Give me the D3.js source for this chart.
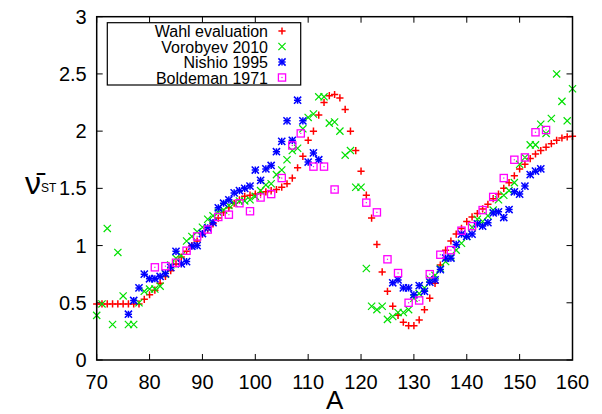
<!DOCTYPE html>
<html>
<head>
<meta charset="utf-8">
<script src="https://cdn.jsdelivr.net/npm/d3@7"></script>
<style>
  body { margin: 0; background: #fff; }
  svg { display: block; font-family: "Liberation Sans", Arial, sans-serif; }
</style>
</head>
<body>
<div id="graph"></div>
<script>
// values
const wahlA = [70,71,72,73,74,75,76,77,78,79,80,81,82,83,84,85,86,87,88,89,90,91,92,93,94,95,96,97,98,99,
  100,101,102,103,104,105,106,107,108,109,110,111,112,113,114,115,116,117,118,119,120,121,122,123,124,125,126,127,128,129,
  130,131,132,133,134,135,136,137,138,139,140,141,142,143,144,145,146,147,148,149,150,151,152,153,154,155,156,157,158,159,160]
const wahlNu = [0.49,0.49,0.49,0.49,0.49,0.49,0.49,0.49,0.49,0.53,0.57,0.61,0.67,0.73,0.78,0.84,0.90,0.95,1.00,1.04,1.10,1.14,1.19,1.24,1.29,1.33,1.37,1.40,1.43,1.44,
  1.45,1.46,1.47,1.48,1.49,1.51,1.54,1.59,1.68,1.78,1.92,2.00,2.14,2.25,2.31,2.32,2.29,2.19,2.00,1.83,1.65,1.44,1.24,1.01,0.77,0.60,0.47,0.39,0.33,0.30,
  0.30,0.35,0.44,0.54,0.67,0.83,0.96,1.04,1.10,1.15,1.21,1.25,1.28,1.32,1.36,1.41,1.45,1.50,1.55,1.61,1.67,1.71,1.76,1.80,1.83,1.86,1.89,1.92,1.94,1.95,1.955]

const vorobyevA = [70,71,72,73,74,75,76,77,78,79,80,81,82,83,84,85,86,87,88,89,90,91,92,93,94,95,96,97,98,99,
  100,101,102,103,104,105,106,107,108,109,110,111,112,113,114,115,116,117,118,119,120,121,122,123,124,125,126,127,128,129,
  130,131,132,133,134,135,136,137,138,139,140,141,142,143,144,145,146,147,148,149,150,151,152,153,154,155,156,157,158,159,160]
const vorobyevNu = [0.39,0.49,1.15,0.31,0.94,0.56,0.31,0.31,0.50,0.60,0.62,0.62,0.645,0.75,0.83,0.89,0.91,1.04,1.08,1.12,1.16,1.23,1.26,1.29,1.31,1.35,1.37,1.39,1.39,1.40,
  1.43,1.48,1.53,1.54,1.62,1.66,1.75,1.83,1.85,2.02,2.12,2.15,2.30,2.30,2.07,2.08,2.00,1.79,1.83,1.51,1.51,0.80,0.47,0.44,0.47,0.355,0.38,0.415,0.415,0.44,
  0.54,0.58,0.63,0.71,0.74,0.80,0.86,0.90,0.96,1.02,1.08,1.16,1.23,1.21,1.26,1.31,1.40,1.44,1.48,1.55,1.71,1.77,1.88,1.88,2.06,1.98,2.11,2.50,2.26,2.09,2.37]

const nishioA = [76,77,78,79,80,81,82,83,84,85,86,87,88,89,90,91,92,93,94,95,96,97,98,99,100,101,102,103,104,105,106,107,108,109,110,111,112,
  126,127,128,129,130,131,132,133,134,135,136,137,138,139,140,141,142,143,144,145,146,147,148,149,150,151,152,153,154]
const nishioNu = [0.40,0.52,0.63,0.75,0.71,0.71,0.73,0.755,0.81,0.95,0.84,0.86,0.995,1.00,1.105,1.155,1.20,1.33,1.37,1.40,1.46,1.48,1.50,1.52,1.66,1.57,1.67,1.70,1.82,1.91,2.09,1.92,2.27,2.09,1.73,1.81,1.75,
  0.675,0.70,0.63,0.63,0.57,0.65,0.60,0.68,0.70,0.79,0.89,0.89,1.01,1.10,1.08,1.10,1.19,1.17,1.20,1.285,1.295,1.245,1.315,1.47,1.45,1.52,1.62,1.65,1.67]

const boldemanA = [81,83,85,87,89,91,93,95,97,99,101,103,105,107,108.6,111,113,115,
  121,123,125,127,129,131,133,135,137,139,141,143,145,147,149,151,153,155]
const boldemanNu = [0.81,0.82,0.85,0.955,1.08,1.14,1.25,1.27,1.37,1.30,1.42,1.45,1.59,1.875,1.98,1.69,1.69,1.49,
  1.375,1.29,0.88,0.76,0.50,0.52,0.75,0.92,0.96,1.13,1.17,1.31,1.425,1.59,1.75,1.77,1.99,2.01]

const xTicks = [70,80,90,100,110,120,130,140,150,160]
const yTicks = [0,0.5,1,1.5,2,2.5,3]

const seriesNames = ['Wahl evaluation', 'Vorobyev 2010', 'Nishio 1995', 'Boldeman 1971']
const seriesColors = ['#ff0000', '#00e000', '#0000ff', '#ff00ff']
const seriesShapes = ['plus', 'cross', 'star', 'square']

const series = [
  { a: wahlA, nu: wahlNu },
  { a: vorobyevA, nu: vorobyevNu },
  { a: nishioA, nu: nishioNu },
  { a: boldemanA, nu: boldemanNu },
].map((s, i) => ({
  name: seriesNames[i],
  color: seriesColors[i],
  shape: seriesShapes[i],
  points: s.a.map((a, j) => ({ a: a, nu: s.nu[j] })),
}))

const W = 602
const H = 414
const margin = { top: 16.7, right: 29.5, bottom: 54, left: 96.7 }
const width = W - margin.left - margin.right
const height = H - margin.top - margin.bottom

const svg = d3.select('#graph').append('svg').attr('width', W).attr('height', H)
const g = svg.append('g').attr('transform', `translate(${margin.left},${margin.top})`)

const x = d3.scaleLinear().domain([70, 160]).range([0, width])
const y = d3.scaleLinear().domain([0, 3]).range([height, 0])

// draws one gnuplot-like point symbol centred at 0,0
function drawSymbol(sel, shape, color) {
  const r = 3.6
  if (shape === 'plus' || shape === 'star') {
    sel.append('path').attr('d', `M${-r},0H${r}M0,${-r}V${r}`)
      .attr('stroke', color).attr('stroke-width', 1.5).attr('fill', 'none')
  }
  if (shape === 'cross' || shape === 'star') {
    sel.append('path').attr('d', `M${-r},${-r}L${r},${r}M${-r},${r}L${r},${-r}`)
      .attr('stroke', color).attr('stroke-width', shape === 'star' ? 1.5 : 1.2).attr('fill', 'none')
  }
  if (shape === 'square') {
    sel.append('rect').attr('x', -r).attr('y', -r).attr('width', 2 * r).attr('height', 2 * r)
      .attr('stroke', color).attr('stroke-width', 1.3).attr('fill', 'none')
    sel.append('rect').attr('x', -0.6).attr('y', -0.6).attr('width', 1.2).attr('height', 1.2)
      .attr('fill', color)
  }
}

// tick marks on all four sides, pointing inward
const tickLen = 6
const ticks = g.append('g').attr('stroke', '#000').attr('stroke-width', 1)
xTicks.forEach((t) => {
  ticks.append('line').attr('x1', x(t)).attr('x2', x(t)).attr('y1', height).attr('y2', height - tickLen)
  ticks.append('line').attr('x1', x(t)).attr('x2', x(t)).attr('y1', 0).attr('y2', tickLen)
})
yTicks.forEach((t) => {
  ticks.append('line').attr('x1', 0).attr('x2', tickLen).attr('y1', y(t)).attr('y2', y(t))
  ticks.append('line').attr('x1', width).attr('x2', width - tickLen).attr('y1', y(t)).attr('y2', y(t))
})

g.append('g')
  .selectAll('text')
  .data(xTicks)
  .enter()
  .append('text')
  .attr('x', (d) => x(d))
  .attr('y', height + 29)
  .attr('text-anchor', 'middle')
  .attr('font-size', 20)
  .text((d) => d)

g.append('g')
  .selectAll('text')
  .data(yTicks)
  .enter()
  .append('text')
  .attr('x', -10)
  .attr('y', (d) => y(d) + 7)
  .attr('text-anchor', 'end')
  .attr('font-size', 20)
  .text((d) => d)

// the points
series.forEach((s) => {
  g.append('g')
    .selectAll('g')
    .data(s.points)
    .enter()
    .append('g')
    .attr('transform', (d) => `translate(${x(d.a)},${y(d.nu)})`)
    .each(function () { drawSymbol(d3.select(this), s.shape, s.color) })
})

// frame
g.append('rect')
  .attr('width', width).attr('height', height)
  .attr('fill', 'none').attr('stroke', '#000').attr('stroke-width', 1.5)

// legend
const legend = svg.append('g')
legend.append('rect')
  .attr('x', 107.3).attr('y', 22.7).attr('width', 193.4).attr('height', 62.3)
  .attr('fill', '#fff').attr('stroke', '#000').attr('stroke-width', 1.2)
series.forEach((s, i) => {
  const ly = 31 + i * 15.5
  legend.append('text')
    .attr('x', 268).attr('y', ly + 6)
    .attr('text-anchor', 'end').attr('font-size', 16)
    .text(s.name)
  const sym = legend.append('g').attr('transform', `translate(282,${ly})`)
  drawSymbol(sym, s.shape, s.color)
})

// axis titles
svg.append('text')
  .attr('x', margin.left + width / 2).attr('y', 409)
  .attr('text-anchor', 'middle').attr('font-size', 26)
  .text('A')

const yl = svg.append('text')
  .attr('x', 25).attr('y', 194)
  .attr('font-size', 32)
yl.append('tspan').text('ν̄')
yl.append('tspan').attr('font-size', 12).attr('dy', -2).text('ST')
</script>
</body>
</html>
